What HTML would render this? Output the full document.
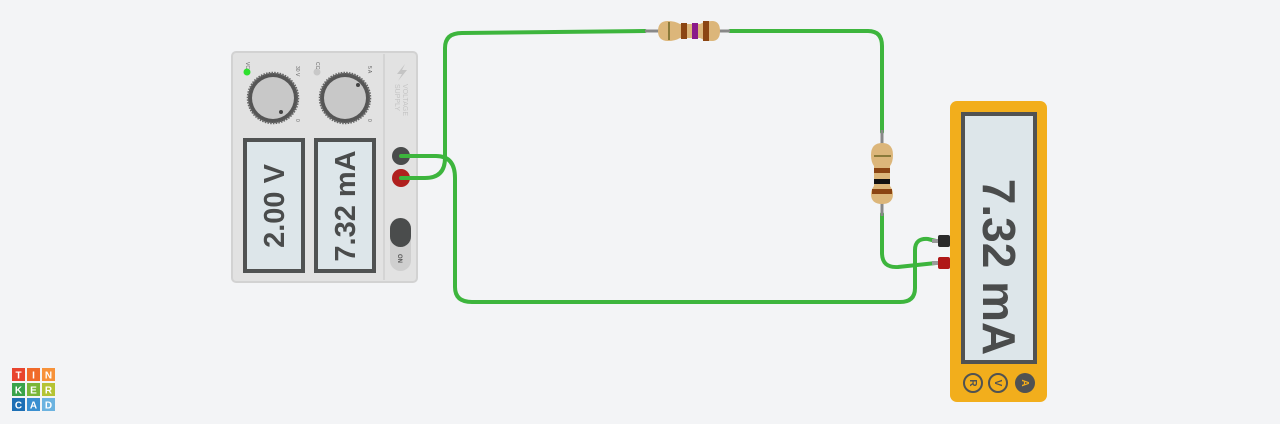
<!DOCTYPE html>
<html><head><style>
html,body{margin:0;padding:0;background:#f3f4f6;}
svg{display:block;font-family:"Liberation Sans",sans-serif;}
</style></head><body>
<svg width="1280" height="424" viewBox="0 0 1280 424" xmlns="http://www.w3.org/2000/svg">
<rect width="1280" height="424" fill="#f3f4f6"/>
<!-- power supply -->
<rect x="232" y="52" width="185" height="230" rx="4" fill="#e2e2e2" stroke="#d2d2d2" stroke-width="2"/>
<line x1="384" y1="54" x2="384" y2="280" stroke="#d0d0d0" stroke-width="1.5"/>
<circle cx="247" cy="72" r="3.5" fill="#2ee02e"/>
<circle cx="317" cy="72" r="3.5" fill="#c8c8c8"/>
<text x="0" y="0" font-size="5" fill="#666" transform="translate(246,62) rotate(90)">VC</text>
<text x="0" y="0" font-size="5" fill="#666" transform="translate(316,62) rotate(90)">CC</text>
<text x="0" y="0" font-size="5" fill="#666" transform="translate(296,66) rotate(90)">30 V</text>
<text x="0" y="0" font-size="5" fill="#666" transform="translate(368,66) rotate(90)">5 A</text>
<text x="0" y="0" font-size="5" fill="#666" transform="translate(296,119) rotate(90)">0</text>
<text x="0" y="0" font-size="5" fill="#666" transform="translate(368,119) rotate(90)">0</text>
<circle cx="273" cy="98" r="25" fill="#555" stroke="#666" stroke-width="2.5" stroke-dasharray="1.5 1.2"/>
<circle cx="273" cy="98" r="21" fill="#c8c8c8"/>
<circle cx="281" cy="112" r="2" fill="#444"/>
<circle cx="345" cy="98" r="25" fill="#555" stroke="#666" stroke-width="2.5" stroke-dasharray="1.5 1.2"/>
<circle cx="345" cy="98" r="21" fill="#c8c8c8"/>
<circle cx="358" cy="85" r="2" fill="#444"/>
<path d="M405 64 L397 74 L402 74 L398 81 L407 70 L402 70 Z" fill="#c4c4c4"/>
<text font-size="7" fill="#c4c4c4" transform="translate(403,84) rotate(90)">VOLTAGE</text>
<text font-size="7" fill="#c4c4c4" transform="translate(395,84) rotate(90)">SUPPLY</text>
<rect x="245" y="140" width="58" height="131" fill="#dde6ea" stroke="#505252" stroke-width="4"/>
<rect x="316" y="140" width="58" height="131" fill="#dde6ea" stroke="#505252" stroke-width="4"/>
<text font-size="29" font-weight="bold" fill="#4a4c4c" text-anchor="middle" transform="translate(284,206) rotate(-90)">2.00 V</text>
<text font-size="29" font-weight="bold" fill="#4a4c4c" text-anchor="middle" transform="translate(355,206) rotate(-90)">7.32 mA</text>
<rect x="390" y="218" width="21" height="53" rx="10.5" fill="#cfcfcf"/>
<rect x="390" y="218" width="21" height="29" rx="10.5" fill="#4a4c4c"/>
<text font-size="6" font-weight="bold" fill="#555" transform="translate(398,254) rotate(90)">ON</text>
<circle cx="401" cy="156" r="9" fill="#4a4c4c"/>
<circle cx="401" cy="178" r="9" fill="#b0201e"/>
<!-- wires -->
<g fill="none" stroke="#3db53d" stroke-width="4" stroke-linecap="round">
<path d="M401 178 H425 Q445 178 445 158 V48 Q445 33 462 33 L645 31"/>
<path d="M730 31 H868 Q882 31 882 46 V132"/>
<path d="M882 214 V253 Q882 268 898 267 L936 263"/>
<path d="M401 156 H436 Q455 156 455 178 V287 Q455 302 472 302 H900 Q915 302 915 288 V250 Q915 238 928 239 L936 241"/>
</g>
<!-- resistor 1 -->
<line x1="645" y1="31" x2="730" y2="31" stroke="#888" stroke-width="3"/>
<path d="M658 31 Q658 21 668 21 Q675 21 680 24 H700 Q705 21 712 21 Q720 21 720 31 Q720 41 712 41 Q705 41 700 38 H680 Q675 41 668 41 Q658 41 658 31Z" fill="#dcb67a"/>
<rect x="668" y="22" width="2" height="18" fill="#8a7a3a"/>
<rect x="681" y="23" width="6" height="16" fill="#8b4513"/>
<rect x="692" y="23" width="6" height="16" fill="#8a1a8a"/>
<rect x="703" y="21" width="6" height="20" fill="#8b4513"/>
<!-- resistor 2 -->
<line x1="882" y1="130" x2="882" y2="216" stroke="#888" stroke-width="3"/>
<path d="M882 143 Q893 143 893 155 Q893 162 890 166 V186 Q893 190 893 194 Q893 204 882 204 Q871 204 871 194 Q871 190 874 186 V166 Q871 162 871 155 Q871 143 882 143Z" fill="#dcb67a"/>
<rect x="874" y="155" width="17" height="2" fill="#8a7a3a"/>
<rect x="874" y="168" width="16" height="5" fill="#8b4513"/>
<rect x="874" y="179" width="16" height="5" fill="#111"/>
<rect x="872" y="189" width="20" height="5" fill="#8b4513"/>
<!-- probes -->
<rect x="932" y="239" width="8" height="4" fill="#999"/>
<rect x="938" y="235" width="12" height="12" rx="2" fill="#2a2a2a"/>
<rect x="932" y="261" width="8" height="4" fill="#999"/>
<rect x="938" y="257" width="12" height="12" rx="2" fill="#b01818"/>
<!-- multimeter -->
<rect x="950" y="101" width="97" height="301" rx="7" fill="#f2ae1c"/>
<rect x="963" y="114" width="72" height="248" fill="#dde6ea" stroke="#505252" stroke-width="4"/>
<text font-size="46" font-weight="bold" fill="#4a4c4c" text-anchor="middle" transform="translate(983,267) rotate(90)">7.32 mA</text>
<circle cx="973" cy="383" r="9" fill="none" stroke="#505252" stroke-width="2"/>
<circle cx="998" cy="383" r="9" fill="none" stroke="#505252" stroke-width="2"/>
<circle cx="1025" cy="383" r="10" fill="#505252"/>
<text font-size="10" font-weight="bold" fill="#505252" text-anchor="middle" transform="translate(970,383) rotate(90)">R</text>
<text font-size="10" font-weight="bold" fill="#505252" text-anchor="middle" transform="translate(995,383) rotate(90)">V</text>
<text font-size="10" font-weight="bold" fill="#f2ae1c" text-anchor="middle" transform="translate(1022,383) rotate(90)">A</text>
<!-- logo -->
<g font-size="10" font-weight="bold" fill="#fff" text-anchor="middle">
<rect x="12" y="368" width="13" height="13" fill="#e8442e"/><text x="18.5" y="378.5">T</text>
<rect x="27" y="368" width="13" height="13" fill="#f06a2a"/><text x="33.5" y="378.5">I</text>
<rect x="42" y="368" width="13" height="13" fill="#f7923a"/><text x="48.5" y="378.5">N</text>
<rect x="12" y="383" width="13" height="13" fill="#3aa34a"/><text x="18.5" y="393.5">K</text>
<rect x="27" y="383" width="13" height="13" fill="#7ab638"/><text x="33.5" y="393.5">E</text>
<rect x="42" y="383" width="13" height="13" fill="#b5c334"/><text x="48.5" y="393.5">R</text>
<rect x="12" y="398" width="13" height="13" fill="#1d6fb5"/><text x="18.5" y="408.5">C</text>
<rect x="27" y="398" width="13" height="13" fill="#3a8fd0"/><text x="33.5" y="408.5">A</text>
<rect x="42" y="398" width="13" height="13" fill="#6cb3e0"/><text x="48.5" y="408.5">D</text>
</g>
</svg>
</body></html>
